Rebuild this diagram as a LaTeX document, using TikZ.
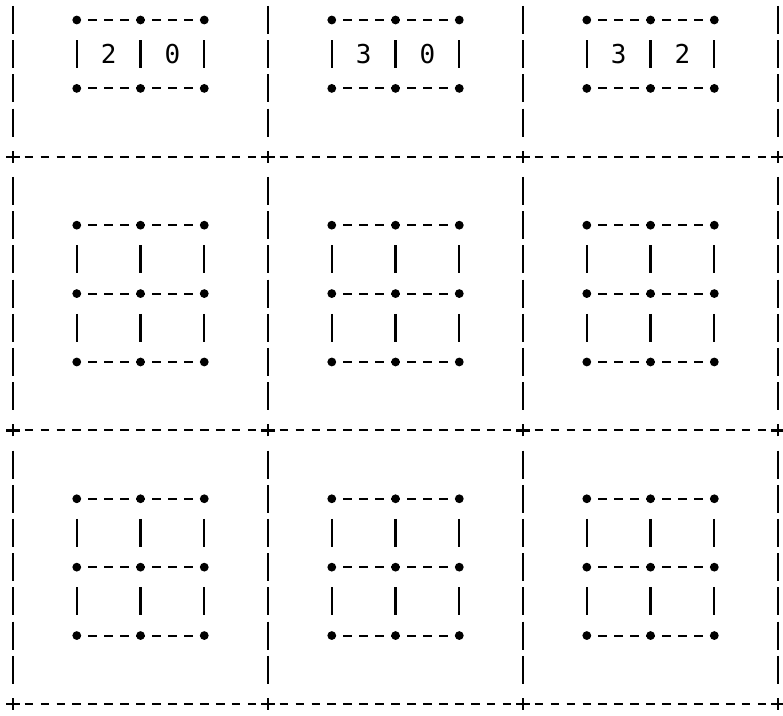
\documentclass[tikz,border=0pt]{standalone}
\usepackage{fontspec}
\setmonofont{DejaVu Sans Mono}
\usepackage{tikz}
\usetikzlibrary{backgrounds}
\tikzstyle{dotblk}=[circle, draw=none, fill=black, inner sep=0pt, minimum size=4.4pt]
\tikzstyle{hlink}=[line width=1.05pt, dash pattern=on 4.3pt off 3.67pt, dash phase=2.15pt]
\tikzstyle{vlink}=[line width=1.15pt, shorten <=10.1pt, shorten >=10.1pt]
\tikzstyle{rail}=[line width=1.15pt, dash pattern=on 14pt off 3.1pt, shorten <=10.1pt, shorten >=10.1pt]
\tikzstyle{digit}=[inner sep=0pt, font=\ttfamily\fontsize{13}{13}\selectfont]

\begin{document}
\begin{tikzpicture}[x=7.97pt, y=-17.1pt]
\useasboundingbox (-0.816,-0.585) rectangle (48.31,20.35);
% corners of the outer grid
\foreach \c in {0,1,2,3}{
  \coordinate (p\c0) at (16*\c, -0.41);
  \foreach \r in {1,2,3}
    \coordinate (p\c\r) at (16*\c, 8*\r-4);
}
% dots of each cell
\foreach \c in {0,1,2}{
  \foreach \i in {0,1,2}{
    \node[dotblk] (a\c\i0) at (16*\c+4+4*\i, 0) {};
    \node[dotblk] (a\c\i1) at (16*\c+4+4*\i, 2) {};
    \foreach \r in {1,2}
      \foreach \j in {0,1,2}
        \node[dotblk] (b\r\c\i\j) at (16*\c+4+4*\i, 8*\r-2+2*\j) {};
  }
}
% numbers in the top cells
\foreach \c/\u/\v in {0/2/0, 1/3/0, 2/3/2}{
  \node[digit] (u\c) at (16*\c+6, 1) {\u};
  \node[digit] (v\c) at (16*\c+10, 1) {\v};
}
\begin{scope}[on background layer]
% outer grid
\foreach \c in {0,1,2,3}{
  \draw[rail, shorten <=0pt] (p\c0) -- (p\c1);
  \draw[rail] (p\c1) -- (p\c2);
  \draw[rail] (p\c2) -- (p\c3);
}
\foreach \c/\d in {0/1,1/2,2/3}
  \foreach \r in {1,2,3}
    \draw[hlink] (p\c\r) -- (p\d\r);
% links inside the cells
\foreach \c in {0,1,2}{
  \foreach \i/\k in {0/1,1/2}{
    \draw[hlink] (a\c\i0.center) -- (a\c\k0.center);
    \draw[hlink] (a\c\i1.center) -- (a\c\k1.center);
  }
  \foreach \i in {0,1,2}
    \draw[vlink] (a\c\i0.center) -- (a\c\i1.center);
  \foreach \r in {1,2}{
    \foreach \j in {0,1,2}
      \foreach \i/\k in {0/1,1/2}
        \draw[hlink] (b\r\c\i\j.center) -- (b\r\c\k\j.center);
    \foreach \i in {0,1,2}
      \foreach \j/\l in {0/1,1/2}
        \draw[vlink] (b\r\c\i\j.center) -- (b\r\c\i\l.center);
  }
}
\end{scope}
% plus signs where the grid lines meet
\foreach \c in {0,1,2,3}
  \foreach \r in {1,2,3}
    \draw[line width=1.15pt] ([xshift=-3.3pt]p\c\r) -- ([xshift=3.3pt]p\c\r)
      ([yshift=-3pt]p\c\r) -- ([yshift=3pt]p\c\r);
\end{tikzpicture}
\end{document}
